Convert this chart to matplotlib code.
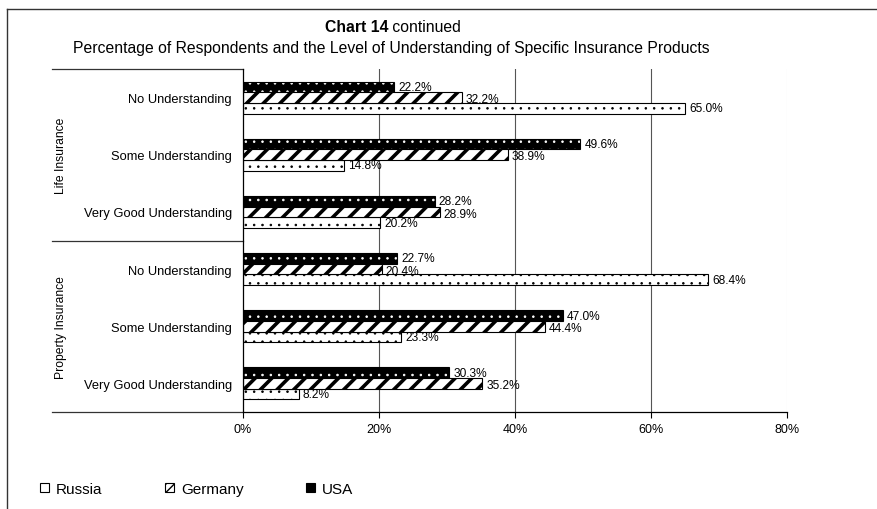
import matplotlib
matplotlib.use("Agg")
import numpy as np
import matplotlib.pyplot as plt
from matplotlib.patches import Patch
from matplotlib.lines import Line2D

plt.rcParams['font.family'] = ['Liberation Sans', 'DejaVu Sans']

# data (top to bottom)
groups = ["Life Insurance", "Property Insurance"]
levels = ["No Understanding", "Some Understanding", "Very Good Understanding"]
usa = [22.2, 49.6, 28.2, 22.7, 47.0, 30.3]
germany = [32.2, 38.9, 28.9, 20.4, 44.4, 35.2]
russia = [65.0, 14.8, 20.2, 68.4, 23.3, 8.2]
xticks = [0, 20, 40, 60, 80]

W, H = 877, 510
x0, x1 = 243, 787
fig = plt.figure(figsize=(W / 100, H / 100), dpi=100)
ax = fig.add_axes([x0 / W, 1 - 413 / H, (x1 - x0) / W, (413 - 70) / H])

y = np.arange(len(usa))
h = 0.187

# dotted bars: USA black/white dots, Russia white/black dots
with plt.rc_context({'hatch.linewidth': 0.6}):
    ax.barh(y - h, usa, height=h, color='black', edgecolor='white', hatch='..', linewidth=0)
    ax.barh(y + h, russia, height=h, color='white', edgecolor='black', hatch='..', linewidth=0.8)
ax.barh(y - h, usa, height=h, fill=False, edgecolor='black', linewidth=0.8)
# Germany: thick diagonal stripes
with plt.rc_context({'hatch.linewidth': 2.6}):
    ax.barh(y, germany, height=h, color='white', edgecolor='black', hatch='//', linewidth=0.8)

for vals, off in [(usa, -h), (germany, 0.03), (russia, h)]:
    for i, v in enumerate(vals):
        ax.text(v + 0.6, i + off, f"{v:.1f}%", fontsize=8.6, va='center', ha='left')

ax.set_xlim(0, 80)
ax.set_ylim(len(usa) - 0.5, -0.5)
for x in xticks[1:-1]:
    ax.axvline(x, color='#555555', lw=0.8, zorder=0)
ax.axvline(80, color='#e4e4e4', lw=0.8, zorder=0)

ax.set_xticks(xticks)
ax.set_xticklabels([f"{x}%" for x in xticks], fontsize=9)
ax.tick_params(axis='x', direction='out', length=4, pad=4, width=0.8)
ax.set_yticks(y)
ax.set_yticklabels(levels * 2, fontsize=9.3)
ax.tick_params(axis='y', length=0, pad=8)
for s in ['top', 'right']:
    ax.spines[s].set_visible(False)
for s in ['left', 'bottom']:
    ax.spines[s].set_linewidth(0.9)

# category area lines on the left
xl = (52 - x0) / (x1 - x0)
tr = ax.get_yaxis_transform()
for yy in [-0.5, 2.5, 5.5]:
    ax.plot([xl, 0], [yy, yy], color='#333333', lw=0.9, transform=tr, clip_on=False)

gx = (61 - x0) / (x1 - x0)
ax.text(gx, 1.0, groups[0], rotation=90, fontsize=8.7, ha='center', va='center', transform=tr)
ax.text(gx, 4.0, groups[1], rotation=90, fontsize=8.7, ha='center', va='center', transform=tr)

# titles
t1 = fig.text(325 / W, 1 - 27 / H, "Chart 14", fontsize=11.3, weight='bold', va='center')
ax.annotate(" continued", xy=(1, 0.5), xycoords=t1, fontsize=11.3, va='center', ha='left')
fig.text(391 / W, 1 - 48 / H,
         "Percentage of Respondents and the Level of Understanding of Specific Insurance Products",
         fontsize=11.3, ha='center', va='center')

# legend
handles = [Patch(facecolor='white', edgecolor='black', lw=0.8),
           Patch(facecolor='white', edgecolor='black', hatch='////', lw=0.8),
           Patch(facecolor='black', edgecolor='black', lw=0.8)]
fig.legend(handles, ["Russia", "Germany", "USA"], loc='center left',
           bbox_to_anchor=(26 / W, 1 - 490 / H), ncol=3, frameon=False, fontsize=11,
           handlelength=0.6, handleheight=0.5, handletextpad=0.45, columnspacing=4.1)

# outer frame
fig.add_artist(Line2D([7 / W, 7 / W], [0, 1 - 10 / H], transform=fig.transFigure, color='#333333', lw=1))
fig.add_artist(Line2D([7 / W, 1], [1 - 10 / H, 1 - 10 / H], transform=fig.transFigure, color='#333333', lw=1))

fig.savefig("out.png", dpi=100)
